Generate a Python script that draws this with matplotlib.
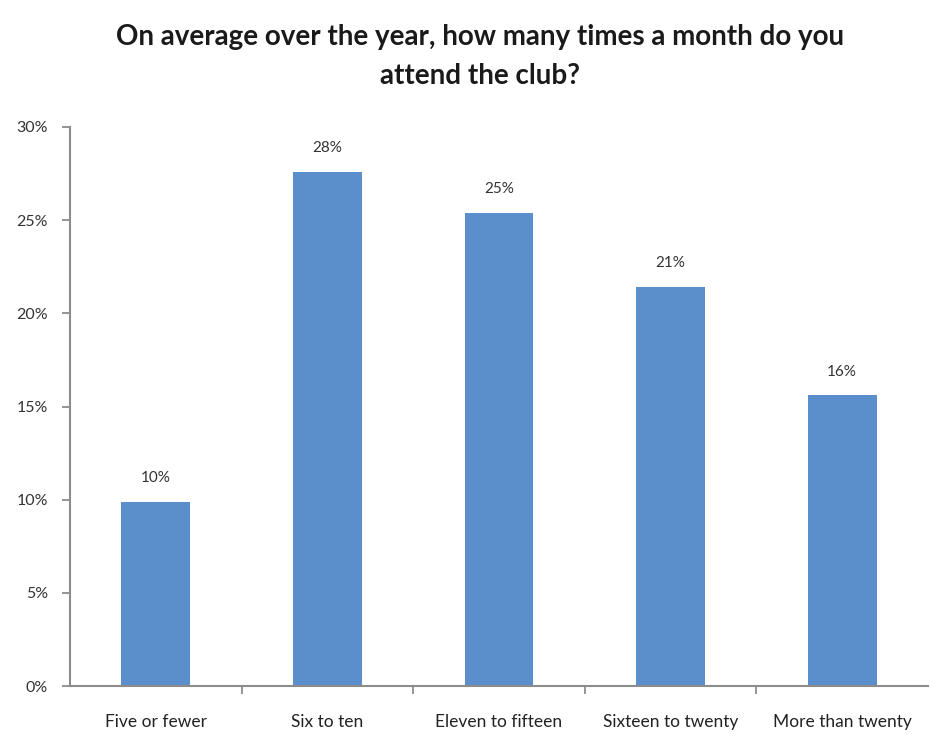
import matplotlib
matplotlib.use("Agg")
import matplotlib.pyplot as plt
from matplotlib.ticker import FixedLocator, PercentFormatter

categories = ["Five or fewer", "Six to ten", "Eleven to fifteen",
              "Sixteen to twenty", "More than twenty"]
values = [9.9, 27.6, 25.4, 21.4, 15.6]
yticks = [0, 5, 10, 15, 20, 25, 30]
title = "On average over the year, how many times a month do you\nattend the club?"

plt.rcParams["font.family"] = ["Lato", "DejaVu Sans"]

fig = plt.figure(figsize=(9.3, 7.34), dpi=100)
ax = fig.add_axes([70 / 930, 1 - 686 / 734, 858 / 930, (686 - 127) / 734])

x = list(range(len(categories)))
bars = ax.bar(x, values, width=0.4, color="#5b8fcc", zorder=2)

for xi, v in zip(x, values):
    ax.text(xi, v + 0.9, f"{v:.0f}%", ha="center", va="bottom",
            fontsize=11, color="#333333")

ax.set_xlim(-0.5, len(categories) - 0.5)
ax.set_ylim(0, 30)
ax.set_yticks(yticks)
ax.yaxis.set_major_formatter(PercentFormatter(decimals=0))
ax.set_xticks(x)
ax.set_xticklabels(categories)
ax.xaxis.set_minor_locator(FixedLocator([i + 0.5 for i in range(len(categories) - 1)]))

for s in ["top", "right"]:
    ax.spines[s].set_visible(False)
for s in ["left", "bottom"]:
    ax.spines[s].set_color("#8c8c8c")
    ax.spines[s].set_linewidth(1.5)

ax.tick_params(axis="y", direction="out", length=6, width=1.3, color="#8c8c8c",
               labelsize=11.5, labelcolor="#333333", pad=10)
ax.tick_params(axis="x", which="major", length=0, labelsize=12.5,
               labelcolor="#222222", pad=20)
ax.tick_params(axis="x", which="minor", direction="out", length=6, width=1.3,
               color="#8c8c8c")

fig.text(480 / 930, 1 - 24 / 734, title, ha="center", va="top", fontsize=20,
         fontweight="bold", color="#1a1a1a", linespacing=1.6)

fig.savefig("out.png", dpi=100, facecolor="white")
